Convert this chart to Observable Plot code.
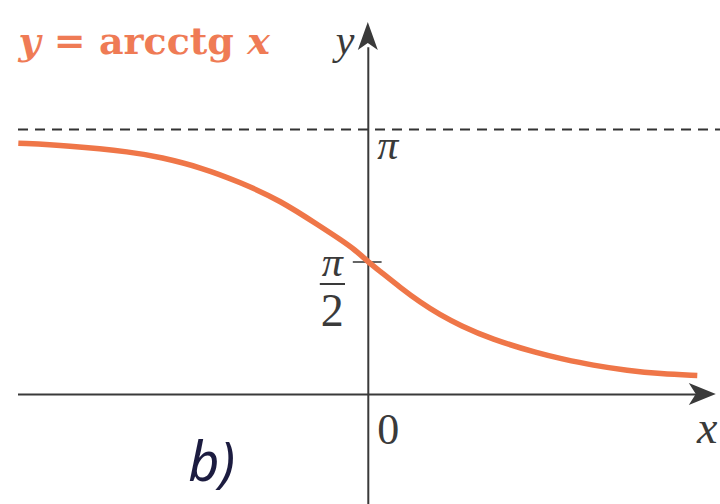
<!DOCTYPE html>
<html>
<head>
<meta charset="utf-8">
<script src="https://cdn.jsdelivr.net/npm/d3@7"></script>
<script src="https://cdn.jsdelivr.net/npm/@observablehq/plot@0.6"></script>
<style>
  html, body { margin: 0; padding: 0; background: #fff; }
  #chart svg { display: block; }
</style>
</head>
<body>
<div id="chart"></div>
<script>
const PI = Math.PI;

// Sampled points of the curve y = arcctg x
const curveX = [-5.833, -5.017, -3.917, -3.467, -2.8, -2.133, -1.467, -0.8, -0.467, -0.217, 0,
                0.2, 0.533, 0.867, 1.2, 1.533, 2.033, 2.867, 3.2, 3.75, 4.317, 4.867, 5.483];
const curveY = [2.979, 2.952, 2.873, 2.813, 2.695, 2.517, 2.300, 1.992, 1.838, 1.713, PI / 2,
                1.458, 1.268, 1.091, 0.942, 0.818, 0.660, 0.480, 0.427, 0.344, 0.285, 0.245, 0.225];

// Horizontal asymptote and marked value on the y axis
const asymptoteY = [PI];
const yTickValues = [PI / 2];

// Extents of the coordinate axes
const xAxisExtent = [-5.83, 5.8];
const yAxisExtent = [-1.35, 4.41];

// Texts
const titleText = "y = arcctg x";
const yAxisLabel = "y";
const xAxisLabel = "x";
const originLabel = "0";
const piLabel = "π";
const halfNumerator = "π";
const halfDenominator = "2";
const panelLabel = "b)";

const curve = curveX.map((x, i) => ({x, y: curveY[i]}));

const ORANGE = "#ef7648";
const INK = "#3a3a3a";
const SERIF = "'Liberation Serif', 'DejaVu Serif', serif";

const plot = Plot.plot({
  width: 720,
  height: 504,
  marginTop: 0,
  marginRight: 0,
  marginBottom: 0,
  marginLeft: 0,
  x: {domain: [-6.13, 5.87], axis: null},
  y: {domain: [0, PI], range: [394, 129], axis: null},
  marks: [
    // asymptote y = π
    Plot.ruleY(asymptoteY, {x1: xAxisExtent[0], x2: 6.2, stroke: "#333", strokeWidth: 2, strokeDasharray: "10,7"}),
    // axes
    Plot.ruleY([0], {x1: xAxisExtent[0], x2: xAxisExtent[1] - 0.3, stroke: INK, strokeWidth: 2.2}),
    Plot.ruleX([0], {y1: yAxisExtent[0], y2: yAxisExtent[1] - 0.3, stroke: INK, strokeWidth: 2}),
    // tick at π/2
    Plot.ruleY(yTickValues, {x1: -0.25, x2: 0.23, stroke: "#666", strokeWidth: 2}),
    // fraction bar of π/2
    Plot.ruleY(yTickValues, {x1: -0.8, x2: -0.38, dy: 22, stroke: INK, strokeWidth: 2}),
    // the curve, smoothed through the samples
    Plot.line(curve, {x: "x", y: "y", curve: "basis", stroke: ORANGE, strokeWidth: 5.5, strokeLinecap: "butt"}),
    // labels
    Plot.text([titleText], {frameAnchor: "top-left", dx: 18, dy: 53, lineAnchor: "bottom", textAnchor: "start",
      fontFamily: "'DejaVu Serif', serif", fontWeight: "bold", fontSize: 38, fill: "#ef7b55"}),
    Plot.text([yAxisLabel], {x: [0], frameAnchor: "top", dx: -14, dy: 53, lineAnchor: "bottom", textAnchor: "end",
      fontFamily: SERIF, fontStyle: "italic", fontSize: 42, fill: INK}),
    Plot.text([piLabel], {x: [0], y: asymptoteY, dx: 9, dy: 29, lineAnchor: "bottom", textAnchor: "start",
      fontFamily: SERIF, fontStyle: "italic", fontSize: 42, fill: INK}),
    Plot.text([halfNumerator], {x: [0], y: yTickValues, dx: -36, dy: 14, lineAnchor: "bottom", textAnchor: "middle",
      fontFamily: SERIF, fontStyle: "italic", fontSize: 42, fill: INK}),
    Plot.text([halfDenominator], {x: [0], y: yTickValues, dx: -36, dy: 64, lineAnchor: "bottom", textAnchor: "middle",
      fontFamily: SERIF, fontSize: 46, fill: INK}),
    Plot.text([originLabel], {x: [0], y: [0], dx: 9, dy: 49, lineAnchor: "bottom", textAnchor: "start",
      fontFamily: SERIF, fontSize: 44, fill: INK}),
    Plot.text([xAxisLabel], {x: [xAxisExtent[1]], y: [0], dx: 1, dy: 48, lineAnchor: "bottom", textAnchor: "end",
      fontFamily: SERIF, fontStyle: "italic", fontSize: 46, fill: INK}),
    Plot.text([panelLabel], {x: [-3.0], y: [0], dx: 0, dy: 86, lineAnchor: "bottom", textAnchor: "start",
      fontFamily: "'Noto Sans', 'DejaVu Sans', sans-serif", fontStyle: "italic", fontSize: 54, fill: "#1c1c40"})
  ]
});

// Italic variables inside the title formula
d3.select(plot).selectAll("text").filter(function() { return this.textContent === titleText; })
  .each(function() {
    const t = d3.select(this);
    t.text(null);
    t.append("tspan").attr("font-style", "italic").text("y");
    t.append("tspan").text(" = arcctg ");
    t.append("tspan").attr("font-style", "italic").text("x");
  });

// Filled arrowheads at the positive ends of both axes
const sx = plot.scale("x"), sy = plot.scale("y");
const x0 = sx.apply(0), y0 = sy.apply(0);
const xTip = sx.apply(xAxisExtent[1]);
const yTip = sy.apply(yAxisExtent[1]);
const heads = d3.select(plot).append("g").attr("fill", INK);
heads.append("path").attr("d",
  `M${xTip},${y0} L${xTip - 27},${y0 - 11} L${xTip - 20},${y0} L${xTip - 27},${y0 + 11} Z`);
heads.append("path").attr("d",
  `M${x0},${yTip} L${x0 - 10},${yTip + 28} L${x0},${yTip + 21} L${x0 + 10},${yTip + 28} Z`);

document.getElementById("chart").appendChild(plot);
</script>
</body>
</html>
